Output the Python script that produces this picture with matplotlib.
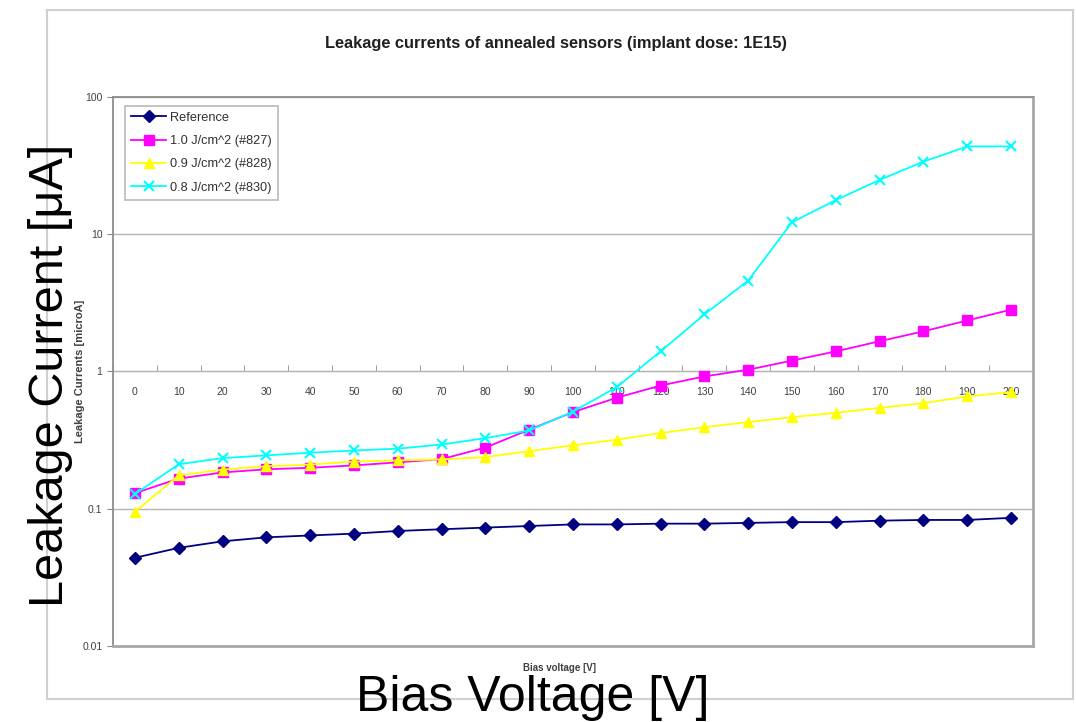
import numpy as np
import matplotlib
matplotlib.use('Agg')
import matplotlib.pyplot as plt
from matplotlib.patches import Rectangle

plt.rcParams['font.family'] = ['Liberation Sans', 'DejaVu Sans']

# bias voltage categories (V)
voltage = ['0', '10', '20', '30', '40', '50', '60', '70', '80', '90', '100',
           '110', '120', '130', '140', '150', '160', '170', '180', '190', '200']

# leakage currents in microA
reference = [0.044, 0.052, 0.058, 0.062, 0.064, 0.066, 0.069, 0.071, 0.073, 0.075, 0.077,
             0.077, 0.078, 0.078, 0.079, 0.080, 0.080, 0.082, 0.083, 0.083, 0.086]
dose_10 = [0.130, 0.166, 0.184, 0.194, 0.199, 0.207, 0.218, 0.230, 0.279, 0.377, 0.506,
           0.644, 0.79, 0.92, 1.03, 1.20, 1.40, 1.66, 1.96, 2.35, 2.82]
dose_09 = [0.095, 0.175, 0.193, 0.204, 0.210, 0.221, 0.225, 0.229, 0.238, 0.263, 0.290,
           0.319, 0.356, 0.393, 0.428, 0.465, 0.500, 0.544, 0.588, 0.658, 0.707]
dose_08 = [0.128, 0.211, 0.234, 0.245, 0.256, 0.266, 0.274, 0.294, 0.327, 0.372, 0.51,
           0.77, 1.40, 2.60, 4.59, 12.2, 17.7, 24.8, 33.7, 43.5, 43.5]

labels = ['Reference', '1.0 J/cm^2 (#827)', '0.9 J/cm^2 (#828)', '0.8 J/cm^2 (#830)']

x = np.arange(len(voltage))

fig = plt.figure(figsize=(10.76, 7.22), dpi=100)
# outer chart border
fig.patches.append(Rectangle((0.0437, 0.032), 0.9535, 0.954, transform=fig.transFigure,
                             fill=False, edgecolor='#d0d0d0', lw=1.5))

ax = fig.add_axes([0.105, 0.105, 0.855, 0.761])
ax.set_yscale('log')
ax.set_ylim(0.01, 100)
ax.set_xlim(-0.5, len(voltage) - 0.5)

for s in ax.spines.values():
    s.set_color('#8c8c8c')
    s.set_linewidth(1.3)
ax.spines['bottom'].set_linewidth(2)
ax.spines['right'].set_linewidth(2)
ax.spines['bottom'].set_color('#a8a8a8')
ax.spines['right'].set_color('#a8a8a8')

ax.grid(axis='y', which='major', color='#b4b4b4', lw=1)
ax.set_axisbelow(True)

ax.plot(x, reference, color='#000080', marker='D', ms=6, lw=1.3, label=labels[0])
ax.plot(x, dose_10, color='#ff00ff', marker='s', ms=7, lw=1.3, label=labels[1])
ax.plot(x, dose_09, color='#ffff00', marker='^', ms=7, lw=1.3, label=labels[2])
ax.plot(x, dose_08, color='#00ffff', marker='x', ms=7, mew=1.5, lw=1.3, label=labels[3])

ax.set_yticks([0.01, 0.1, 1, 10, 100])
ax.set_yticklabels(['0.01', '0.1', '1', '10', '100'])
ax.yaxis.set_minor_locator(matplotlib.ticker.NullLocator())
ax.tick_params(axis='y', labelsize=7.5, labelcolor='#404040', color='#8c8c8c', length=4)
ax.set_xticks([])

# category axis crossing at 1 microA
sec = ax.secondary_xaxis(0.5)
sec.set_alignment('bottom')
sec.set_xticks(x)
sec.set_xticklabels(voltage)
sec.set_xticks(np.arange(len(voltage) + 1) - 0.5, minor=True)
sec.tick_params(which='major', length=0, labelsize=7.5, labelcolor='#404040', pad=11)
sec.tick_params(which='minor', length=4, direction='in', color='#8c8c8c')
sec.spines['bottom'].set_color('#b4b4b4')

fig.text(0.517, 0.94, 'Leakage currents of annealed sensors (implant dose: 1E15)',
         fontsize=11.8, fontweight='bold', color='#202020', ha='center', va='center')

leg = ax.legend(loc='upper left', bbox_to_anchor=(0.013, 0.984), fontsize=9.2,
                frameon=True, fancybox=False, edgecolor='#a8a8a8', borderpad=0.5,
                labelspacing=0.88, handlelength=2.7, handletextpad=0.3, borderaxespad=0)
leg.get_frame().set_linewidth(1.2)
for t in leg.get_texts():
    t.set_color('#303030')

# small excel axis titles
fig.text(0.074, 0.486, 'Leakage Currents [microA]', rotation=90, fontsize=8,
         fontweight='bold', color='#404040', ha='center', va='center')
fig.text(0.52, 0.075, 'Bias voltage [V]', fontsize=7, fontweight='bold',
         color='#404040', ha='center', va='center')

# large overlaid labels
fig.text(0.047, 0.48, 'Leakage Current [\u03bcA]', rotation=90, fontsize=35,
         ha='center', va='center')
fig.text(0.495, 0.033, 'Bias Voltage [V]', fontsize=36, ha='center', va='center')

fig.savefig('out.png', dpi=100)
